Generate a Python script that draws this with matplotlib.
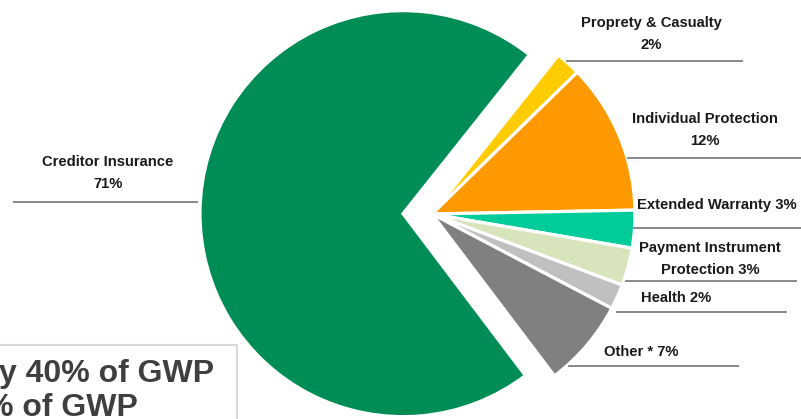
import matplotlib
matplotlib.use("Agg")
import matplotlib.pyplot as plt
from matplotlib.patches import Rectangle

# GWP split by business line
lines = ["Proprety & Casualty", "Individual Protection", "Extended Warranty",
         "Payment Instrument Protection", "Health", "Other *", "Creditor Insurance"]
shares = [2, 12, 3, 3, 2, 7, 71]
colors = ["#FFCC00", "#FF9900", "#00CC99", "#D8E4BC", "#C0C0C0", "#808080", "#008C55"]
# pie() offsets exploded wedges in data units, here pixels
explode = [0, 0, 0, 0, 0, 0, 29]

label_text = ["Proprety & Casualty\n2%", "Individual Protection\n12%", "Extended Warranty 3%",
              "Payment Instrument\nProtection 3%", "Health 2%", "Other * 7%",
              "Creditor Insurance\n71%"]

W, H = 801, 419
fig = plt.figure(figsize=(W / 100, H / 100), dpi=100)
ax = fig.add_axes([0, 0, 1, 1])

ax.pie(shares, colors=colors, explode=explode, startangle=51.5, counterclock=False,
       radius=203, center=(432, H - 214),
       wedgeprops=dict(edgecolor="white", linewidth=2.3))
ax.set_xlim(0, W)
ax.set_ylim(0, H)
ax.set_aspect("equal")
ax.axis("off")

font = dict(family=["Liberation Sans", "DejaVu Sans"], fontweight="bold",
            fontsize=10.6, color="#1A1A1A", linespacing=1.65)

def py(y):
    return H - y

label_pos = [(651, 34, "center"), (705, 130, "center"), (717, 205, "center"),
             (710, 259, "center"), (641, 298, "left"), (604, 352, "left"),
             (108, 173, "center")]
rules = [(566, 743, 61), (627, 801, 158), (633, 801, 228), (625, 797, 281),
         (616, 787, 312), (568, 739, 366), (13, 198, 202)]

for txt, (x, y, ha) in zip(label_text, label_pos):
    ax.text(x, py(y), txt, ha=ha, va="center", multialignment="center", **font)
for x0, x1, y in rules:
    ax.plot([x0, x1], [py(y), py(y)], color="#7F7F7F", lw=1.3, solid_capstyle="butt")

# callout box in the lower left
ax.add_patch(Rectangle((-10, py(430)), 247, 85, facecolor="white",
                       edgecolor="#D9D9D9", lw=1.5, zorder=3))
box_font = dict(family=["Liberation Sans", "DejaVu Sans"], fontweight="bold",
                fontsize=23, color="#3F3F3F", zorder=4)
ax.text(214, py(374), "y 40% of GWP", ha="right", va="center", **box_font)
ax.text(138, py(408), "% of GWP", ha="right", va="center", **box_font)

fig.savefig("out.png", dpi=100)
